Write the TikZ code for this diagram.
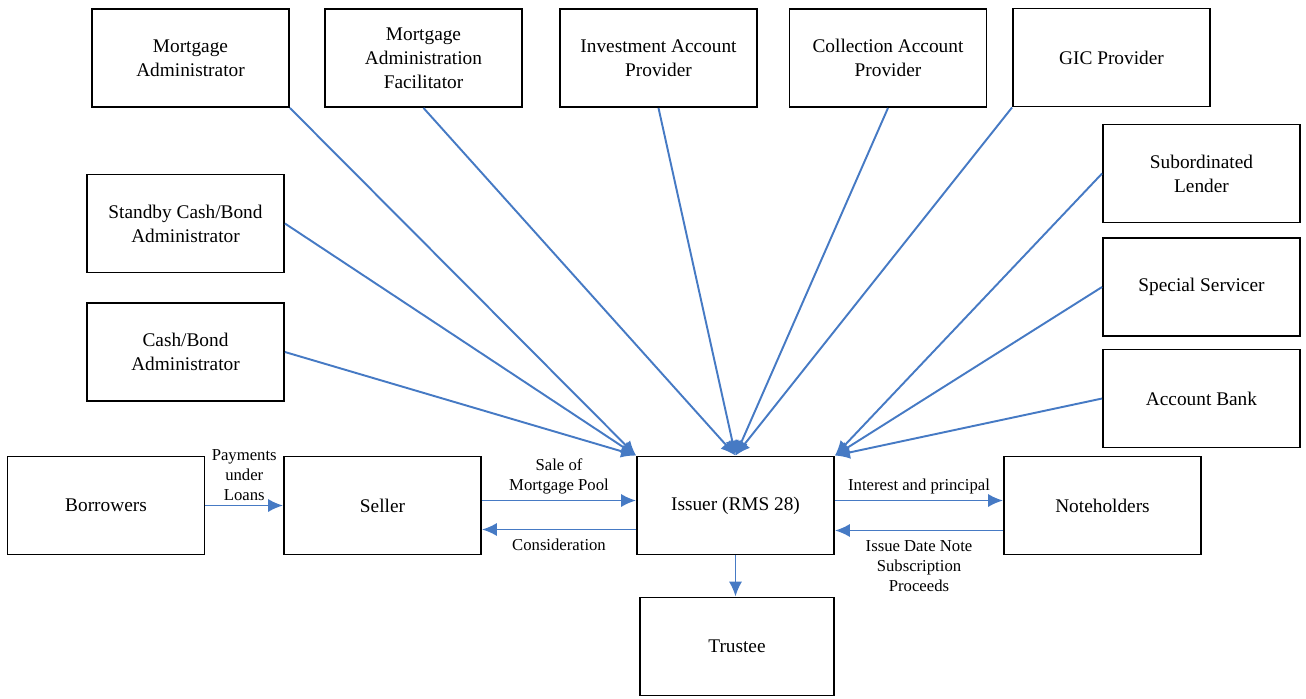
\documentclass[tikz,border=0pt]{standalone}
\usepackage{fontspec}
\setmainfont{Liberation Serif}
\usepackage{tikz}
\usetikzlibrary{arrows.meta}

\definecolor{flowblue}{RGB}{70,122,196}

\begin{document}
\begin{tikzpicture}[x=0.02cm,y=-0.02cm,
	party/.style={draw,line width=1.1pt,minimum width=3.94cm,minimum height=1.96cm,align=center,font=\fontsize{11}{13.6}\selectfont,inner sep=2pt},
	flow/.style={draw=flowblue,line width=1.1pt,-{Latex[length=8.5pt,width=7.5pt]}},
	flowlabel/.style={align=center,font=\fontsize{9.5}{11.5}\selectfont,inner sep=1pt}]
	\useasboundingbox (0,0) rectangle (1306,698);
	% nodes
	\node [party] (madmin) at (190.5,58) {Mortgage\\Administrator};
	\node [party] (mfac) at (423.5,58) {Mortgage\\Administration\\Facilitator};
	\node [party] (invest) at (658.5,58) {Investment Account\\Provider};
	\node [party] (collect) at (888,58) {Collection Account\\Provider};
	\node [party] (gic) at (1111.5,57.5) {GIC Provider};
	\node [party] (sublender) at (1201.5,173.5) {Subordinated\\Lender};
	\node [party] (special) at (1201.5,287) {Special Servicer};
	\node [party] (bank) at (1201.5,398.5) {Account Bank};
	\node [party] (standby) at (185.5,223.5) {Standby Cash/Bond\\Administrator};
	\node [party] (cashbond) at (185.5,352) {Cash/Bond\\Administrator};
	\node [party] (borrowers) at (106,505.5) {Borrowers};
	\node [party] (seller) at (382.5,505.5) {Seller};
	\node [party] (issuer) at (735.5,505.5) {Issuer (RMS 28)};
	\node [party] (noteholders) at (1102.5,505.5) {Noteholders};
	\node [party,minimum width=3.88cm] (trustee) at (737,646.5) {Trustee};
	% lines into the issuer
	\draw [flow] (madmin.south east) -- (issuer.north west);
	\draw [flow] (standby.east) -- (issuer.north west);
	\draw [flow] (cashbond.east) -- (issuer.north west);
	\draw [flow] (mfac.south) -- (issuer.north);
	\draw [flow] (invest.south) -- (issuer.north);
	\draw [flow] (collect.south) -- (issuer.north);
	\draw [flow] (gic.south west) -- (issuer.north);
	\draw [flow] (sublender.west) -- (issuer.north east);
	\draw [flow] (special.west) -- (issuer.north east);
	\draw [flow] (bank.west) -- (issuer.north east);
	% horizontal flows
	\draw [flow] (borrowers.east) -- node [flowlabel,above=1pt] {Payments\\under\\Loans} (seller.west);
	\draw [flow] ([yshift=0.1cm]seller.east) -- node [flowlabel,above=2pt] {Sale of\\Mortgage Pool} ([yshift=0.1cm]issuer.west);
	\draw [flow] ([yshift=-0.48cm]issuer.west) -- node [flowlabel,below=4pt] {Consideration} ([yshift=-0.48cm]seller.east);
	\draw [flow] ([yshift=0.1cm]issuer.east) -- node [flowlabel,above=2pt] {Interest and principal} ([yshift=0.1cm]noteholders.west);
	\draw [flow] ([yshift=-0.5cm]noteholders.west) -- node [flowlabel,below=4pt] {Issue Date Note\\Subscription\\Proceeds} ([yshift=-0.5cm]issuer.east);
	\draw [flow] (issuer.south) -- (issuer.south |- trustee.north);
\end{tikzpicture}
\end{document}
